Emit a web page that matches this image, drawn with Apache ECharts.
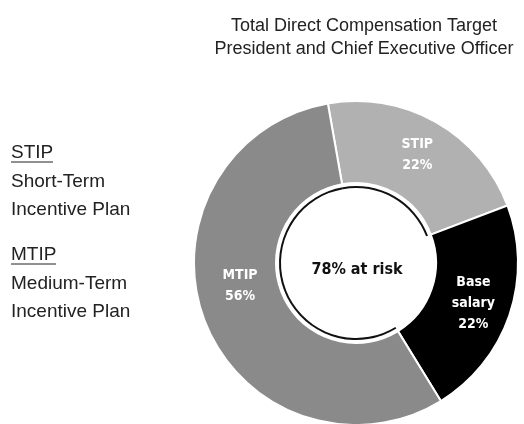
<!DOCTYPE html>
<html>
<head>
<meta charset="utf-8">
<script src="https://cdn.jsdelivr.net/npm/echarts@6/dist/echarts.min.js"></script>
<style>
  html, body { margin: 0; padding: 0; background: #fff; }
  #chart { width: 524px; height: 424px; }
</style>
</head>
<body>
<div id="chart"></div>
<script>
// compensation mix (percent of target)
var categories = ["STIP", "Base salary", "MTIP"];
var shares = [22, 22, 56];
var atRisk = [true, false, true];
var colors = ["#b1b1b1", "#000000", "#8a8a8a"];

var titleLines = ["Total Direct Compensation Target", "President and Chief Executive Officer"];
var centerText = "78% at risk";

var chart = echarts.init(document.getElementById("chart"), null, { renderer: "canvas" });

var labelFont = "'DejaVu Sans Condensed', 'Liberation Sans Narrow', sans-serif";
var textFont = "'Liberation Sans', Arial, sans-serif";

var pieData = categories.map(function (c, i) {
  return {
    name: c,
    value: shares[i],
    itemStyle: { color: colors[i] }
  };
});

// thin arc around the at-risk part
var arcData = categories.map(function (c, i) {
  return {
    name: c,
    value: shares[i],
    itemStyle: { color: atRisk[i] ? "#111" : "rgba(0,0,0,0)" }
  };
});

chart.setOption({
  animation: false,
  title: {
    text: titleLines.join("\n"),
    left: 359,
    top: 10,
    textAlign: "center",
    textStyle: {
      fontFamily: textFont,
      fontSize: 18,
      fontWeight: "normal",
      color: "#222",
      lineHeight: 23
    }
  },
  graphic: [
    {
      type: "text",
      x: 11,
      y: 139,
      style: {
        text: "STIP\nShort-Term\nIncentive Plan",
        font: "19px " + textFont,
        fill: "#222",
        lineHeight: 28.5
      }
    },
    { type: "line", shape: { x1: 11, y1: 162, x2: 53, y2: 162 }, style: { stroke: "#222", lineWidth: 1 } },
    {
      type: "text",
      x: 11,
      y: 241,
      style: {
        text: "MTIP\nMedium-Term\nIncentive Plan",
        font: "19px " + textFont,
        fill: "#222",
        lineHeight: 28.5
      }
    },
    { type: "line", shape: { x1: 11, y1: 264, x2: 56, y2: 264 }, style: { stroke: "#222", lineWidth: 1 } },
    {
      type: "text",
      x: 357,
      y: 270,
      z: 10,
      style: {
        text: centerText,
        font: "bold 16px " + labelFont,
        fill: "#111",
        align: "center",
        verticalAlign: "middle"
      }
    }
  ],
  series: [
    {
      type: "pie",
      center: [356, 263],
      radius: [80, 162],
      startAngle: 100,
      clockwise: true,
      silent: true,
      itemStyle: { borderColor: "#fff", borderWidth: 2 },
      label: {
        show: true,
        position: "inside",
        color: "#fff",
        fontFamily: labelFont,
        fontWeight: "bold",
        fontSize: 14,
        lineHeight: 21,
        formatter: function (p) {
          var s = p.name.replace(" ", "\n") + "\n" + p.value + "%";
          // the big slice's label sits higher than its middle in the original
          if (p.name === "MTIP") s += "\n \n ";
          return s;
        }
      },
      labelLine: { show: false },
      data: pieData
    },
    {
      type: "pie",
      center: [356, 263],
      radius: [75, 77],
      startAngle: 100,
      clockwise: true,
      silent: true,
      label: { show: false },
      labelLine: { show: false },
      itemStyle: { borderWidth: 0 },
      data: arcData
    }
  ]
});
</script>
</body>
</html>
